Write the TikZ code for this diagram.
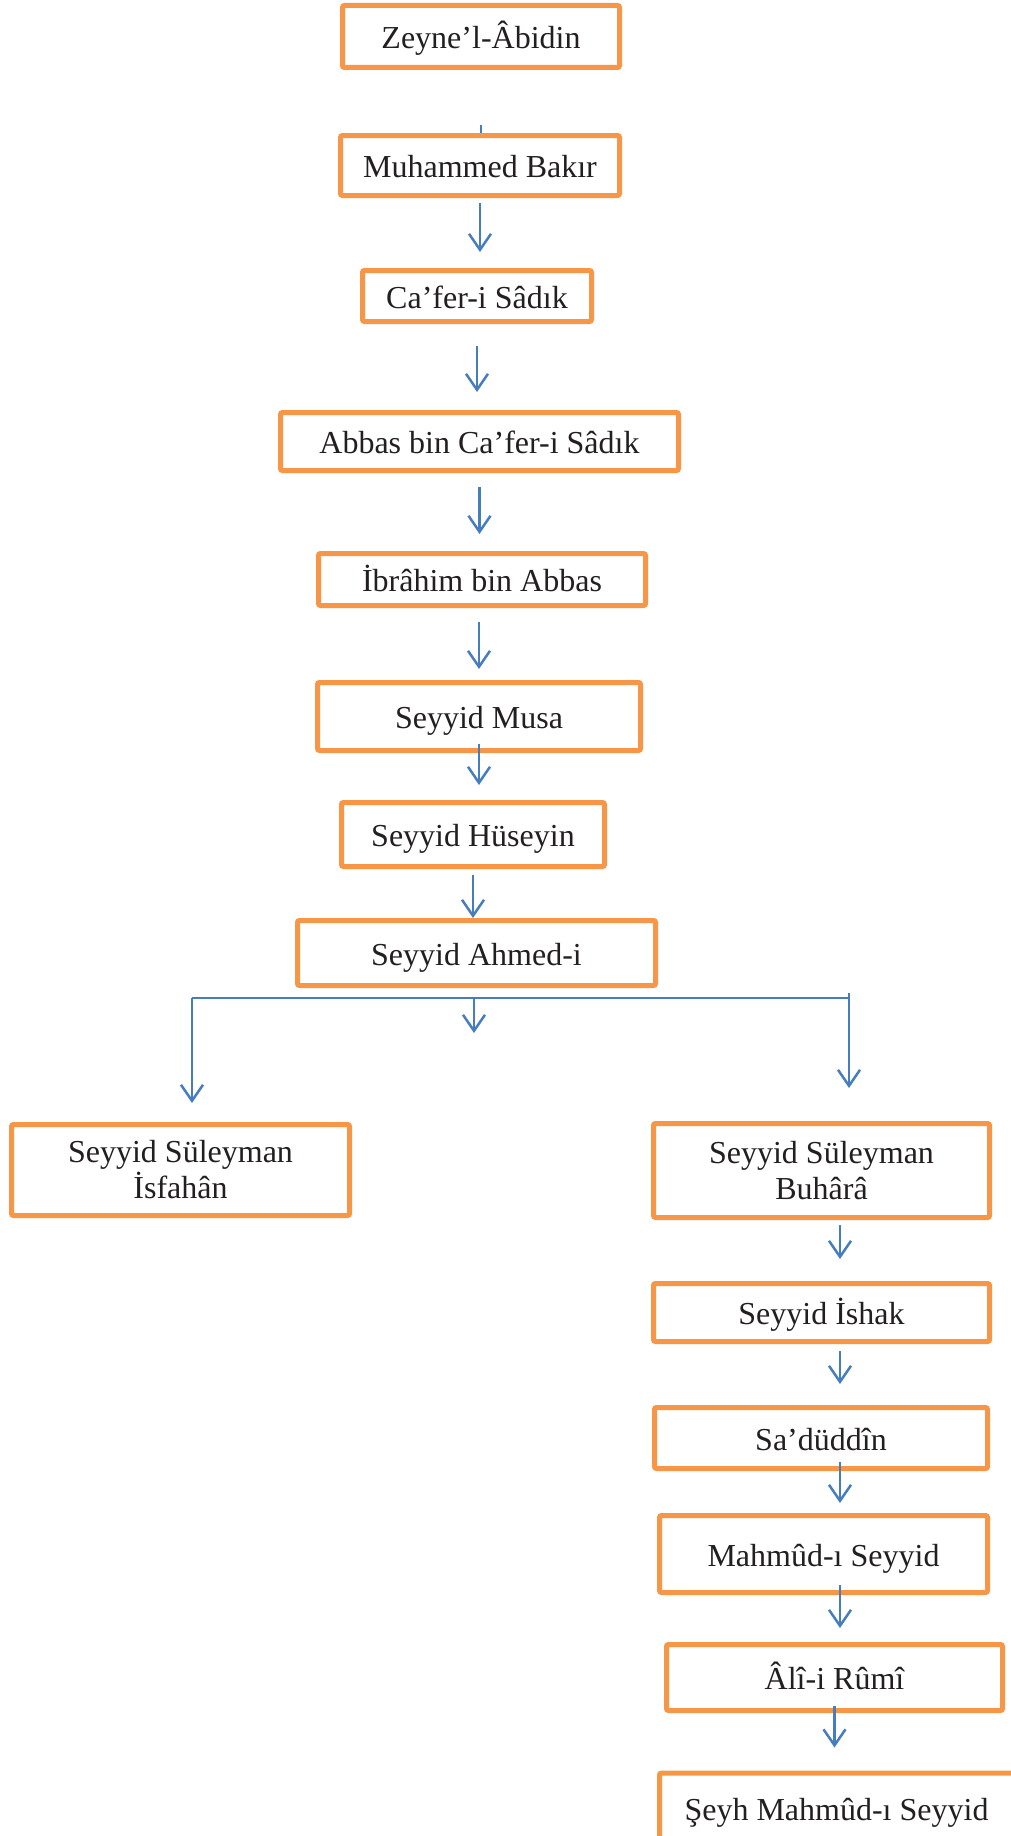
\documentclass[tikz,border=0pt]{standalone}
\usepackage{fontspec}
\setmainfont{Liberation Serif}
\usetikzlibrary{arrows.meta}
\definecolor{boxorange}{RGB}{247,150,70}
\definecolor{linkblue}{RGB}{70,125,190}
\definecolor{ink}{RGB}{35,31,32}
\begin{document}
\begin{tikzpicture}[x=1pt,y=-1pt,
  every node/.style={draw=boxorange,line width=5pt,rounded corners=2pt,fill=white,text=ink,
    inner sep=0pt,align=center,font=\fontsize{32}{36}\selectfont},
  oneline/.style={text height=32pt,text depth=8pt},
  link/.style={draw=linkblue,line width=2.5pt},
  arr/.style={link,-{Straight Barb[length=16pt,width=22pt]}}]
  \useasboundingbox (0,0) rectangle (1011,1836);
  % middle line
  \node (zeyne) [oneline,minimum width=277pt,minimum height=62pt] at (481,36.5) {Zeyne’l-Âbidin};
  \node (bakir) [oneline,minimum width=279pt,minimum height=60pt] at (480,165.5) {Muhammed Bakır};
  \node (cafer) [oneline,minimum width=229pt,minimum height=51pt] at (477,296) {Ca’fer-i Sâdık};
  \node (abbas) [oneline,minimum width=398pt,minimum height=58pt] at (479.5,441.5) {Abbas bin Ca’fer-i Sâdık};
  \node (ibrahim) [oneline,minimum width=327pt,minimum height=52pt] at (482,579.5) {İbrâhim bin Abbas};
  \node (musa) [oneline,minimum width=323pt,minimum height=68pt] at (479,716.5) {Seyyid Musa};
  \node (huseyin) [oneline,minimum width=263pt,minimum height=64pt] at (473,834.5) {Seyyid Hüseyin};
  \node (ahmed) [oneline,minimum width=358pt,minimum height=65pt] at (476.5,953) {Seyyid Ahmed-i};
  % the two branches
  \node (isfahan) [minimum width=338pt,minimum height=91pt] at (180.5,1170) {Seyyid Süleyman\\İsfahân};
  \node (buhara) [minimum width=336pt,minimum height=94pt] at (821.5,1170.5) {Seyyid Süleyman\\Buhârâ};
  \node (ishak) [oneline,minimum width=336pt,minimum height=58pt] at (821.5,1312.5) {Seyyid İshak};
  \node (saduddin) [oneline,minimum width=333pt,minimum height=61pt] at (821,1438) {Sa’düddîn};
  \node (mahmud) [oneline,minimum width=328pt,minimum height=77pt] at (823.5,1554) {Mahmûd-ı Seyyid};
  \node (ali) [oneline,minimum width=336pt,minimum height=66pt] at (834.5,1677.5) {Âlî-i Rûmî};
  \node (seyh) [oneline,minimum width=354pt,minimum height=70pt] at (836.5,1808) {Şeyh Mahmûd-ı Seyyid};

  \coordinate (stub) at (481,125);
  \coordinate (lft) at (192,998);
  \coordinate (mid) at (474,998);
  \coordinate (midtip) at (474,1033);
  \coordinate (rgt) at (849,998);
  \coordinate (rgttop) at (849,993);
  \coordinate (rcol) at (840,0);

  \draw[link] (stub) -- (stub |- bakir.north);
  \draw[arr,shorten <=5pt,shorten >=16pt] (bakir.south) -- (bakir.south |- cafer.north);
  \draw[arr,shorten <=22pt,shorten >=18pt] (cafer.south) -- (cafer.south |- abbas.north);
  \draw[arr,shorten <=14pt,shorten >=17pt] (abbas.south) -- (abbas.south |- ibrahim.north);
  \draw[arr,shorten <=14pt,shorten >=11pt] (musa.north |- ibrahim.south) -- (musa.north);
  \draw[arr,shorten >=15pt] ([yshift=9pt]musa.south) -- (musa.south |- huseyin.north);
  \draw[arr,shorten <=6pt] (huseyin.south) -- (huseyin.south |- ahmed.north);

  \draw[link] (lft) -- (rgt);
  \draw[arr] (mid) -- (midtip);
  \draw[arr,shorten >=19pt] (lft) -- (lft |- isfahan.north);
  \draw[arr,shorten >=33pt] (rgttop) -- (rgttop |- buhara.north);

  \draw[arr,shorten <=5pt,shorten >=22pt] (buhara.south -| rcol) -- (ishak.north -| rcol);
  \draw[arr,shorten <=7pt,shorten >=21pt] (ishak.south -| rcol) -- (saduddin.north -| rcol);
  \draw[arr,shorten >=10pt] ([yshift=9pt]saduddin.south -| rcol) -- (mahmud.north -| rcol);
  \draw[arr,shorten >=14pt] ([yshift=10pt]mahmud.south -| rcol) -- (ali.north -| rcol);
  \draw[arr,shorten >=23pt] ([yshift=7pt]ali.south) -- (ali.south |- seyh.north);
\end{tikzpicture}
\end{document}
